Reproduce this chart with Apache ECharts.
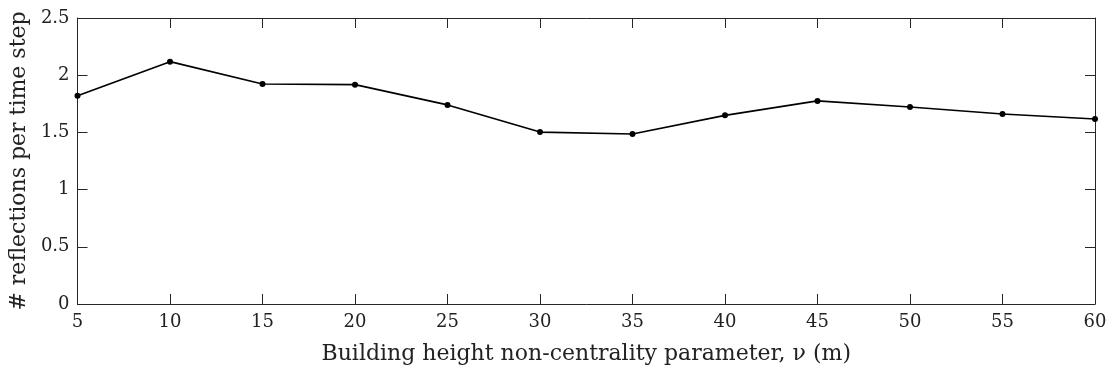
<!DOCTYPE html>
<html>
<head>
<meta charset="utf-8">
<script src="https://cdn.jsdelivr.net/npm/echarts@6/dist/echarts.min.js"></script>
<style>
  html, body { margin: 0; padding: 0; background: #fff; }
  #chart { width: 1114px; height: 372px; }
</style>
</head>
<body>
<div id="chart"></div>
<script>
// Building height non-centrality parameter (m)
const nuValues = [5, 10, 15, 20, 25, 30, 35, 40, 45, 50, 55, 60];
// Mean number of reflections per time step
const reflections = [1.82, 2.118, 1.923, 1.917, 1.74, 1.503, 1.486, 1.649, 1.775, 1.722, 1.661, 1.617];

const xLabel = 'Building height non-centrality parameter, \u03BD (m)';
const yLabel = '# reflections per time step';

const FONT = 'DejaVu Serif';
const AXIS_COLOR = '#262626';
const TEXT_COLOR = '#222';

function axisLine() {
  return { show: true, onZero: false, lineStyle: { color: AXIS_COLOR, width: 1 } };
}
function axisTick() {
  return { show: true, inside: true, length: 10, lineStyle: { color: AXIS_COLOR, width: 1 } };
}

const chart = echarts.init(document.getElementById('chart'), null, { renderer: 'canvas' });

chart.setOption({
  animation: false,
  backgroundColor: '#fff',
  grid: { left: 77, right: 19, top: 18, bottom: 68 },
  xAxis: [
    {
      type: 'value', min: 5, max: 60, interval: 5, position: 'bottom',
      name: xLabel, nameLocation: 'middle', nameGap: 39,
      nameTextStyle: { fontFamily: FONT, fontSize: 22, color: TEXT_COLOR },
      axisLabel: { fontFamily: FONT, fontSize: 18, color: TEXT_COLOR, margin: 9 },
      axisLine: axisLine(), axisTick: axisTick(), splitLine: { show: false }
    },
    {
      type: 'value', min: 5, max: 60, interval: 5, position: 'top',
      axisLabel: { show: false },
      axisLine: axisLine(), axisTick: axisTick(), splitLine: { show: false }
    }
  ],
  yAxis: [
    {
      type: 'value', min: 0, max: 2.5, interval: 0.5, position: 'left',
      name: yLabel, nameLocation: 'middle', nameGap: 42, nameRotate: 90,
      nameTextStyle: { fontFamily: FONT, fontSize: 22, color: TEXT_COLOR },
      axisLabel: { fontFamily: FONT, fontSize: 18, color: TEXT_COLOR, margin: 8 },
      axisLine: axisLine(), axisTick: axisTick(), splitLine: { show: false }
    },
    {
      type: 'value', min: 0, max: 2.5, interval: 0.5, position: 'right',
      axisLabel: { show: false },
      axisLine: axisLine(), axisTick: axisTick(), splitLine: { show: false }
    }
  ],
  series: [{
    type: 'line',
    data: nuValues.map((v, i) => [v, reflections[i]]),
    symbol: 'circle',
    symbolSize: 6,
    lineStyle: { color: '#000', width: 1.7 },
    itemStyle: { color: '#000' },
    clip: false
  }]
});
</script>
</body>
</html>
